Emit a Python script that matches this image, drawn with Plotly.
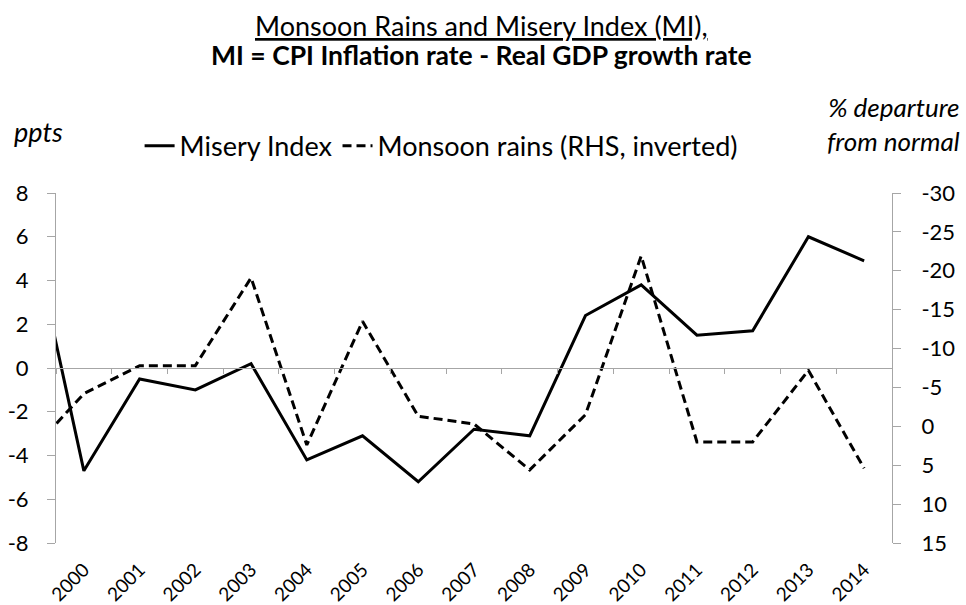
import plotly.graph_objects as go

# 1999 sits half a category left of the plot edge; only its segment shows
years = [1999, 2000, 2001, 2002, 2003, 2004, 2005, 2006, 2007,
         2008, 2009, 2010, 2011, 2012, 2013, 2014]
misery_index = [7.0, -4.7, -0.5, -1.0, 0.2, -4.2, -3.1, -5.2, -2.8,
                -3.1, 2.4, 3.8, 1.5, 1.7, 6.0, 4.9]
monsoon_rains = [3.6, -4.2, -7.8, -7.8, -19.1, 2.4, -13.5, -1.3, -0.3,
                 5.6, -1.5, -21.9, 2.0, 2.0, -7.2, 5.4]
year_labels = [str(y) for y in years[1:]]
left_ticks = [-8, -6, -4, -2, 0, 2, 4, 6, 8]
right_ticks = [-30, -25, -20, -15, -10, -5, 0, 5, 10, 15]

FONT = "Lato"
GREY = "#a6a6a6"
x_range = [years[1] - 0.5, years[-1] + 0.5]

fig = go.Figure()

fig.add_trace(go.Scatter(
    x=years, y=misery_index,
    mode="lines",
    name="Misery Index",
    line=dict(color="black", width=3),
))

fig.add_trace(go.Scatter(
    x=years, y=monsoon_rains,
    mode="lines",
    name="Monsoon rains (RHS, inverted)",
    line=dict(color="black", width=3, dash="9px,5px"),
    yaxis="y2",
))

# invisible trace so the category axis drawn at zero exists
fig.add_trace(go.Scatter(
    x=x_range, y=[0, 0], mode="lines",
    line=dict(width=0), showlegend=False, hoverinfo="skip",
    xaxis="x2",
))

fig.update_layout(
    width=966, height=605,
    margin=dict(l=56, r=74, t=193, b=62),
    plot_bgcolor="white",
    paper_bgcolor="white",
    font=dict(family=FONT, size=22, color="black"),
    showlegend=True,
    legend=dict(
        orientation="h",
        x=0.100, y=1.134, xanchor="left", yanchor="middle",
        font=dict(size=27),
        itemwidth=30,
        bgcolor="rgba(0,0,0,0)",
    ),
    xaxis=dict(
        range=x_range,
        tickmode="array",
        tickvals=years[1:],
        ticktext=year_labels,
        tickangle=-45,
        tickfont=dict(size=19),
        ticklabelstandoff=11,
        showline=False,
        showgrid=False,
        zeroline=False,
        ticks="",
        automargin=False,
    ),
    xaxis2=dict(
        range=x_range,
        overlaying="x",
        anchor="free",
        position=0.5,
        side="bottom",
        tickmode="array",
        tickvals=[y - 0.5 for y in years[1:]],
        showticklabels=False,
        ticks="outside",
        ticklen=5,
        tickcolor=GREY,
        showline=True,
        linecolor=GREY,
        linewidth=1,
        showgrid=False,
        zeroline=False,
        automargin=False,
    ),
    yaxis=dict(
        range=[-8, 8],
        tickmode="array",
        tickvals=left_ticks,
        ticktext=[str(v) for v in left_ticks],
        showline=True,
        linecolor=GREY,
        linewidth=1,
        ticks="outside",
        ticklen=8,
        tickcolor=GREY,
        ticklabelstandoff=14,
        showgrid=False,
        zeroline=False,
        automargin=False,
    ),
    yaxis2=dict(
        range=[15, -30],
        tickmode="array",
        tickvals=right_ticks,
        ticktext=[str(v) for v in right_ticks],
        overlaying="y",
        side="right",
        showline=True,
        linecolor=GREY,
        linewidth=1,
        ticks="outside",
        ticklen=8,
        tickcolor=GREY,
        ticklabelstandoff=16,
        showgrid=False,
        zeroline=False,
        automargin=False,
    ),
    annotations=[
        dict(text="<u>Monsoon Rains and Misery Index (MI),</u>",
             xref="paper", yref="paper", x=0.5084, y=1.48,
             xanchor="center", yanchor="middle", showarrow=False,
             font=dict(size=27)),
        dict(text="<b>MI = CPI Inflation rate - Real GDP growth rate</b>",
             xref="paper", yref="paper", x=0.5084, y=1.395,
             xanchor="center", yanchor="middle", showarrow=False,
             font=dict(size=26.5)),
        dict(text="<i>ppts</i>",
             xref="paper", yref="paper", x=-0.0526, y=1.177,
             xanchor="left", yanchor="middle", showarrow=False,
             font=dict(size=27)),
        dict(text="<i>% departure<br>from normal</i>",
             xref="paper", yref="paper", x=1.0837, y=1.197,
             xanchor="right", yanchor="middle", align="right",
             showarrow=False, font=dict(size=26)),
    ],
)

# drop the page's default body margin so the figure sits at the window corner
fig.write_html(
    "out.html",
    config={"displayModeBar": False},
    post_script="document.body.style.margin = '0';",
)
